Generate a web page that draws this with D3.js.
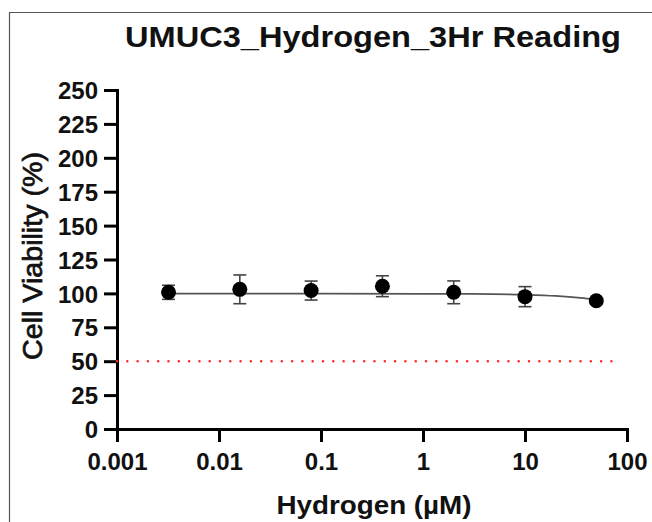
<!DOCTYPE html>
<html>
<meta charset="utf-8">
<script src="https://d3js.org/d3.v7.min.js"></script>
<style>
  body { margin: 0; background: #fff; }
  text { font-family: "Liberation Sans", Arial, sans-serif; }
</style>
<body>
<div id="chart"></div>
<script>
// concentrations (uM) and mean viability (%) with SD
var conc = [0.0032, 0.016, 0.08, 0.4, 2, 10, 50];
var viability = [100.8, 103, 102.1, 105.3, 100.8, 97.6, 94.6];
var sd = [5.2, 10.6, 7, 7.7, 8.4, 7.4, 1.5];

// fitted curve
var curveX = [0.0032, 0.1, 1, 3, 10, 20, 35, 50];
var curveY = [99.8, 99.8, 99.7, 99.6, 99.0, 98.1, 96.7, 95.4];

var xTicks = [0.001, 0.01, 0.1, 1, 10, 100];
var xTickLabels = ["0.001", "0.01", "0.1", "1", "10", "100"];
var yTicks = [0, 25, 50, 75, 100, 125, 150, 175, 200, 225, 250];
var cutoff = 50;

var W = 652, H = 522;

var svg = d3.select("#chart")
  .append("svg")
    .attr("width", W)
    .attr("height", H);

// frame
svg.append("path")
  .attr("d", "M9.5," + H + " V12.5 H" + W)
  .attr("fill", "none")
  .attr("stroke", "#555")
  .attr("stroke-width", 1.2);

var x = d3.scaleLog()
  .domain([0.001, 100])
  .range([117, 627]);

var y = d3.scaleLinear()
  .domain([0, 250])
  .range([429, 90]);

// x axis
var gx = svg.append("g")
  .attr("transform", "translate(0," + y(0) + ")")
  .call(d3.axisBottom(x)
    .tickValues(xTicks)
    .tickFormat(function(d, i) { return xTickLabels[i]; })
    .tickSize(13)
    .tickSizeOuter(0)
    .tickPadding(11));

// y axis
var gy = svg.append("g")
  .attr("transform", "translate(" + x(0.001) + ",0)")
  .call(d3.axisLeft(y)
    .tickValues(yTicks)
    .tickSize(13)
    .tickSizeOuter(0)
    .tickPadding(6));

[gx, gy].forEach(function(g) {
  g.select(".domain").attr("stroke", "#000").attr("stroke-width", 3).attr("stroke-linecap", "square");
  g.selectAll(".tick line").attr("stroke", "#000").attr("stroke-width", 3);
  g.selectAll(".tick text")
    .attr("fill", "#111")
    .style("font-size", "24px")
    .style("font-weight", "bold");
});
gy.selectAll(".tick text").attr("dy", "0.36em");

// 50% line
svg.append("line")
  .attr("x1", x(0.001))
  .attr("x2", x(100) - 6)
  .attr("y1", y(cutoff))
  .attr("y2", y(cutoff))
  .attr("stroke", "#ff2a2a")
  .attr("stroke-width", 2.6)
  .attr("stroke-linecap", "round")
  .attr("stroke-dasharray", "0,10.3");

// fitted curve
var line = d3.line()
  .x(function(d) { return x(d[0]); })
  .y(function(d) { return y(d[1]); })
  .curve(d3.curveMonotoneX);

svg.append("path")
  .datum(d3.zip(curveX, curveY))
  .attr("d", line)
  .attr("fill", "none")
  .attr("stroke", "#555")
  .attr("stroke-width", 1.8);

// error bars
var pts = conc.map(function(c, i) { return {c: c, v: viability[i], s: sd[i]}; });

var eb = svg.selectAll(".eb")
  .data(pts)
  .enter()
  .append("g")
    .attr("class", "eb")
    .attr("stroke", "#444")
    .attr("stroke-width", 1.6);

eb.append("line")
  .attr("x1", function(d) { return x(d.c); })
  .attr("x2", function(d) { return x(d.c); })
  .attr("y1", function(d) { return y(d.v + d.s); })
  .attr("y2", function(d) { return y(d.v - d.s); });

eb.selectAll(".cap")
  .data(function(d) { return [d.v + d.s, d.v - d.s].map(function(v) { return {c: d.c, v: v}; }); })
  .enter()
  .append("line")
    .attr("x1", function(d) { return x(d.c) - 6.5; })
    .attr("x2", function(d) { return x(d.c) + 6.5; })
    .attr("y1", function(d) { return y(d.v); })
    .attr("y2", function(d) { return y(d.v); });

// points
svg.selectAll(".pt")
  .data(pts)
  .enter()
  .append("circle")
    .attr("class", "pt")
    .attr("cx", function(d) { return x(d.c); })
    .attr("cy", function(d) { return y(d.v); })
    .attr("r", 7.5)
    .attr("fill", "#000");

// title and axis titles
svg.append("text")
  .attr("x", 373)
  .attr("y", 47)
  .attr("text-anchor", "middle")
  .attr("textLength", 496)
  .attr("lengthAdjust", "spacingAndGlyphs")
  .style("font-size", "30px")
  .style("font-weight", "bold")
  .attr("fill", "#111")
  .text("UMUC3_Hydrogen_3Hr Reading");

svg.append("text")
  .attr("x", 374)
  .attr("y", 514)
  .attr("text-anchor", "middle")
  .attr("textLength", 195)
  .attr("lengthAdjust", "spacingAndGlyphs")
  .style("font-size", "25px")
  .style("font-weight", "bold")
  .attr("fill", "#111")
  .text("Hydrogen (\u00B5M)");

svg.append("text")
  .attr("transform", "translate(42,256) rotate(-90)")
  .attr("text-anchor", "middle")
  .attr("textLength", 208)
  .attr("lengthAdjust", "spacingAndGlyphs")
  .style("font-size", "27px")
  .attr("fill", "#111")
  .attr("stroke", "#111")
  .attr("stroke-width", 0.7)
  .text("Cell Viability (%)");
</script>
</body>
</html>
